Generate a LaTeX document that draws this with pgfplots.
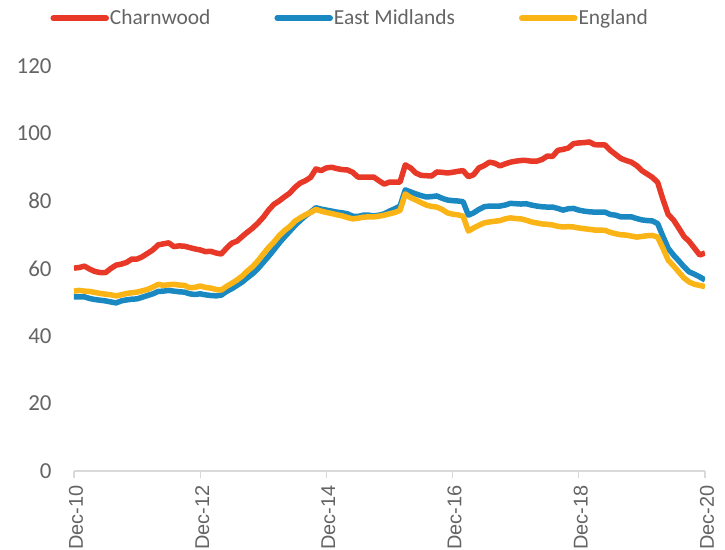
\documentclass[border=0pt]{standalone}
\usepackage{pgfplots}
\pgfplotsset{compat=1.18}
\usepackage{pgfplotstable}
\usepackage{fontspec}
\setmainfont{Carlito}
\newfontfamily\arialf{Liberation Sans}
\definecolor{cRed}{RGB}{232,57,40}
\definecolor{cBlue}{RGB}{26,136,193}
\definecolor{cYel}{RGB}{251,180,22}
\definecolor{txt}{RGB}{100,100,100}
\definecolor{axgray}{RGB}{217,217,217}
\pgfplotstableread{
m c e n
0 60.1 51.6 53.3
1 60.3 51.6 53.5
2 60.7 51.6 53.3
3 59.8 51.1 53.2
4 59.1 50.8 52.9
5 58.8 50.6 52.6
6 58.8 50.4 52.4
7 60.0 50.1 52.2
8 61.0 49.8 51.9
9 61.3 50.4 52.2
10 61.8 50.7 52.6
11 62.8 50.9 52.8
12 62.8 51.0 53.0
13 63.5 51.5 53.4
14 64.5 52.0 53.8
15 65.5 52.5 54.5
16 67.0 53.2 55.3
17 67.3 53.3 55.0
18 67.6 53.5 55.2
19 66.5 53.3 55.3
20 66.7 53.1 55.1
21 66.6 53.0 55.0
22 66.2 52.5 54.3
23 65.8 52.3 54.4
24 65.5 52.5 54.8
25 65.0 52.2 54.4
26 65.1 52.0 54.2
27 64.6 51.9 53.8
28 64.3 52.1 53.6
29 66.0 53.2 54.7
30 67.5 54.0 55.6
31 68.1 55.0 56.6
32 69.5 56.0 57.8
33 70.8 57.3 59.3
34 72.0 58.5 60.6
35 73.5 60.0 62.3
36 75.2 61.8 64.3
37 77.3 63.6 66.2
38 79.0 65.5 67.8
39 80.0 67.5 69.7
40 81.2 69.3 71.2
41 82.3 71.0 72.4
42 84.0 72.7 74.0
43 85.3 74.2 75.0
44 86.0 75.6 75.9
45 87.0 76.7 76.6
46 89.5 78.0 77.5
47 89.0 77.6 77.0
48 89.8 77.3 76.6
49 90.0 77.0 76.3
50 89.6 76.7 75.9
51 89.3 76.5 75.6
52 89.2 76.2 75.1
53 88.5 75.5 74.7
54 87.1 75.4 74.9
55 87.1 75.8 75.2
56 87.1 75.8 75.3
57 87.1 75.6 75.3
58 86.0 75.8 75.5
59 85.0 76.2 75.8
60 85.6 77.0 76.2
61 85.6 77.7 76.6
62 85.6 78.5 77.2
63 90.7 83.3 82.1
64 89.8 82.7 81.0
65 88.3 82.1 80.3
66 87.6 81.6 79.5
67 87.5 81.2 78.8
68 87.4 81.3 78.4
69 88.6 81.5 78.2
70 88.5 80.8 77.5
71 88.3 80.3 76.5
72 88.5 80.1 76.1
73 88.8 80.0 75.9
74 89.0 79.8 75.5
75 87.2 75.8 71.1
76 87.8 76.5 72.0
77 89.8 77.5 72.8
78 90.5 78.3 73.5
79 91.5 78.5 73.8
80 91.2 78.5 74.0
81 90.4 78.5 74.2
82 91.0 78.8 74.7
83 91.5 79.3 75.0
84 91.8 79.2 74.8
85 92.0 79.1 74.7
86 92.0 79.2 74.3
87 91.8 78.8 73.8
88 91.8 78.5 73.5
89 92.3 78.3 73.2
90 93.3 78.2 73.1
91 93.2 78.2 72.9
92 95.0 77.8 72.5
93 95.3 77.3 72.3
94 95.7 77.7 72.4
95 97.0 77.8 72.3
96 97.2 77.3 72.0
97 97.3 77.0 71.8
98 97.5 76.8 71.6
99 96.7 76.7 71.4
100 96.6 76.7 71.4
101 96.6 76.7 71.3
102 95.0 76.0 70.7
103 93.8 75.8 70.3
104 92.6 75.3 70.0
105 92.0 75.3 69.9
106 91.5 75.3 69.6
107 90.5 74.8 69.3
108 89.0 74.4 69.5
109 88.0 74.2 69.7
110 87.0 74.1 69.8
111 85.5 73.3 69.3
112 80.5 69.5 66.0
113 76.0 66.0 62.5
114 74.4 64.0 60.8
115 72.0 62.3 59.0
116 69.5 60.5 57.2
117 68.0 59.0 56.0
118 66.0 58.3 55.3
119 64.0 57.5 55.0
120 64.6 56.6 54.6
}\data
\begin{document}
\begin{tikzpicture}[x=1bp,y=1bp]
\begin{axis}[
  at={(0bp,0bp)}, anchor=origin,
  scale only axis,
  width=631bp, height=405bp,
  xmin=0, xmax=120, ymin=0, ymax=120,
  axis x line=bottom, axis y line=left,
  x axis line style={draw=axgray, line width=1.2bp, -},
  y axis line style={draw=none},
  xtick={0,24,48,72,96,120},
  xticklabels={Dec-10,Dec-12,Dec-14,Dec-16,Dec-18,Dec-20},
  ytick={0,20,...,120},
  xtick style={draw=axgray, line width=1.2bp},
  major tick length=7bp,
  tick align=outside,
  ytick style={draw=none},
  xticklabel style={font=\arialf\fontsize{20}{20}\selectfont, text=txt, yshift=-4bp, xshift=2bp, rotate=90, anchor=east},
  yticklabel style={font=\fontsize{23}{23}\selectfont, text=txt, anchor=east, xshift=-12bp},
  /pgf/number format/assume math mode=true,
  legend style={draw=none, fill=none, at={(0.437,1.118)}, anchor=center,
    legend columns=3, font=\fontsize{21.5}{21.5}\selectfont, text=txt,
    /tikz/every even column/.append style={column sep=63bp},
    nodes={inner sep=1bp}},
  legend image code/.code={\draw[#1, line width=5.5bp, line cap=round] (1bp,0bp) -- (54bp,0bp);},
  every axis plot/.append style={line width=5.5bp, line join=round, mark=none},
]
\addplot[cRed] table[x=m, y=c] {\data};
\addlegendentry{Charnwood}
\addplot[cBlue] table[x=m, y=e] {\data};
\addlegendentry{East Midlands}
\addplot[cYel] table[x=m, y=n] {\data};
\addlegendentry{England}
\end{axis}
\pgfresetboundingbox
\useasboundingbox (-74bp,-79bp) rectangle (651bp,471bp);
\end{tikzpicture}
\end{document}
